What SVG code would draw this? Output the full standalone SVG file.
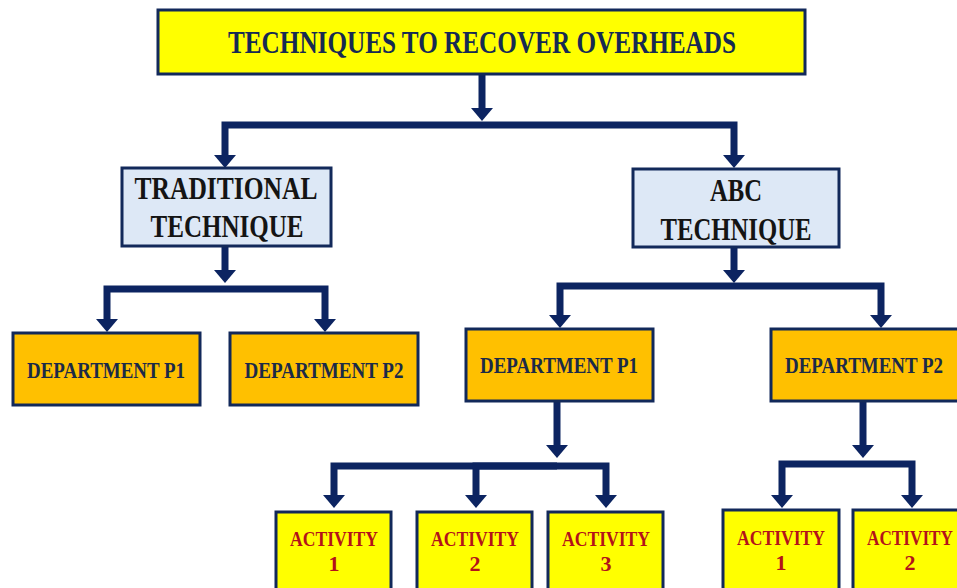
<svg xmlns="http://www.w3.org/2000/svg" width="957" height="588" viewBox="0 0 957 588">
  <defs>
    <marker id="head" viewBox="0 -11.5 13 23" refX="2" refY="0" markerWidth="13" markerHeight="23" markerUnits="userSpaceOnUse" orient="auto">
      <path d="M0,-11 L13,0 L0,11 z" fill="#0c2461"/>
    </marker>
    <style>
      .box { stroke: #12295a; stroke-width: 3; }
      .title { fill: #ffff00; }
      .tech { fill: #dde8f6; }
      .dept { fill: #ffc000; }
      .act { fill: #ffff00; }
      .conn { fill: none; stroke: #0c2461; stroke-width: 7; marker-end: url(#head); }
      text { font-family: "Liberation Serif", "DejaVu Serif", serif; font-weight: bold; text-anchor: middle; }
      .t-title { font-size: 31px; fill: #162a52; }
      .t-tech { font-size: 32px; fill: #141414; }
      .t-dept { font-size: 23px; fill: #1b2a48; }
      .t-act { font-size: 22px; fill: #b3121a; }
    </style>
  </defs>

  <g id="connectors">
    <path class="conn" d="M482,75 V110"/>
    <path class="conn" d="M482,125 H225 V157"/>
    <path class="conn" d="M482,125 H734 V157"/>
    <path class="conn" d="M225,247 V272"/>
    <path class="conn" d="M225,289 H107 V321"/>
    <path class="conn" d="M225,289 H325 V321"/>
    <path class="conn" d="M734,248 V272"/>
    <path class="conn" d="M734,286 H560 V317"/>
    <path class="conn" d="M734,286 H881 V317"/>
    <path class="conn" d="M557,401 V447"/>
    <path class="conn" d="M557,466 H334 V497"/>
    <path class="conn" d="M557,466 H476 V497"/>
    <path class="conn" d="M557,466 H606 V497"/>
    <path class="conn" d="M863,401 V447"/>
    <path class="conn" d="M863,464 H782 V497"/>
    <path class="conn" d="M863,464 H912 V497"/>
  </g>

  <g id="node-title">
    <rect class="box title" x="158" y="10" width="647" height="64"/>
    <text class="t-title" x="482" y="53" textLength="508" lengthAdjust="spacingAndGlyphs">TECHNIQUES TO RECOVER OVERHEADS</text>
  </g>

  <g id="node-traditional">
    <rect class="box tech" x="122" y="168" width="209" height="78"/>
    <text class="t-tech" x="226" y="199" textLength="183" lengthAdjust="spacingAndGlyphs">TRADITIONAL</text>
    <text class="t-tech" x="227" y="237" textLength="153" lengthAdjust="spacingAndGlyphs">TECHNIQUE</text>
  </g>

  <g id="node-abc">
    <rect class="box tech" x="633" y="169" width="206" height="78"/>
    <text class="t-tech" x="736" y="201" textLength="52" lengthAdjust="spacingAndGlyphs">ABC</text>
    <text class="t-tech" x="736" y="240" textLength="151" lengthAdjust="spacingAndGlyphs">TECHNIQUE</text>
  </g>

  <g id="node-trad-dept-p1">
    <rect class="box dept" x="13" y="333" width="187" height="72"/>
    <text class="t-dept" x="106" y="378" textLength="158" lengthAdjust="spacingAndGlyphs">DEPARTMENT P1</text>
  </g>

  <g id="node-trad-dept-p2">
    <rect class="box dept" x="230" y="333" width="188" height="72"/>
    <text class="t-dept" x="324" y="378" textLength="159" lengthAdjust="spacingAndGlyphs">DEPARTMENT P2</text>
  </g>

  <g id="node-abc-dept-p1">
    <rect class="box dept" x="466" y="329" width="187" height="72"/>
    <text class="t-dept" x="559" y="373" textLength="158" lengthAdjust="spacingAndGlyphs">DEPARTMENT P1</text>
  </g>

  <g id="node-abc-dept-p2">
    <rect class="box dept" x="771" y="329" width="190" height="72"/>
    <text class="t-dept" x="864" y="373" textLength="158" lengthAdjust="spacingAndGlyphs">DEPARTMENT P2</text>
  </g>

  <g id="node-p1-activity-1">
    <rect class="box act" x="276" y="512" width="115" height="80"/>
    <text class="t-act" x="334" y="546" textLength="88" lengthAdjust="spacingAndGlyphs">ACTIVITY</text>
    <text class="t-act" x="334" y="571">1</text>
  </g>

  <g id="node-p1-activity-2">
    <rect class="box act" x="417" y="512" width="115" height="80"/>
    <text class="t-act" x="475" y="546" textLength="88" lengthAdjust="spacingAndGlyphs">ACTIVITY</text>
    <text class="t-act" x="475" y="571">2</text>
  </g>

  <g id="node-p1-activity-3">
    <rect class="box act" x="548" y="512" width="115" height="80"/>
    <text class="t-act" x="606" y="546" textLength="88" lengthAdjust="spacingAndGlyphs">ACTIVITY</text>
    <text class="t-act" x="606" y="571">3</text>
  </g>

  <g id="node-p2-activity-1">
    <rect class="box act" x="723" y="510" width="116" height="82"/>
    <text class="t-act" x="781" y="545" textLength="88" lengthAdjust="spacingAndGlyphs">ACTIVITY</text>
    <text class="t-act" x="781" y="570">1</text>
  </g>

  <g id="node-p2-activity-2">
    <rect class="box act" x="853" y="510" width="116" height="82"/>
    <text class="t-act" x="910" y="545" textLength="86" lengthAdjust="spacingAndGlyphs">ACTIVITY</text>
    <text class="t-act" x="910" y="570">2</text>
  </g>
</svg>
